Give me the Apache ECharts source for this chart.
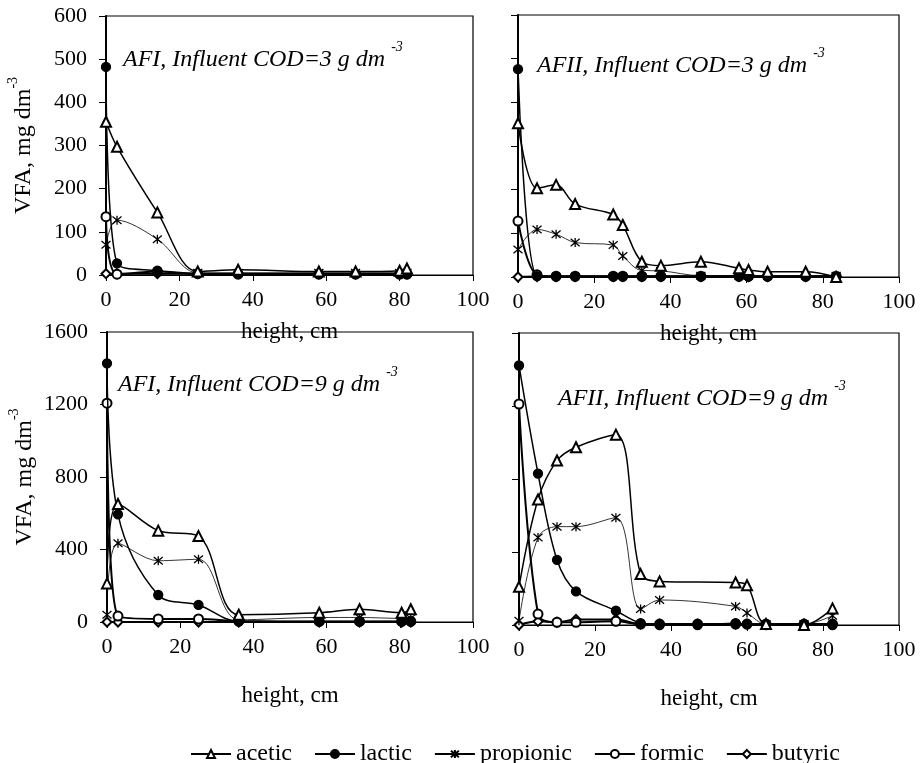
<!DOCTYPE html>
<html>
<head>
<meta charset="utf-8">
<script src="https://cdn.jsdelivr.net/npm/echarts@6/dist/echarts.min.js"></script>
<style>
html,body{margin:0;padding:0;background:#fff;}
#chart{width:923px;height:763px;}
</style>
</head>
<body>
<div id="chart"></div>
<script>
// ---------- DATA ----------
const seriesNames = ['acetic', 'lactic', 'propionic', 'formic', 'butyric'];
const xTicks = [0, 20, 40, 60, 80, 100];

// Panel 1: AFI, COD = 3 g dm-3
const h1 = [0, 3, 14, 25, 36, 58, 68, 80, 82];
const acetic1 = [355, 297, 145, 8, 12, 8, 8, 10, 15];
const lactic1 = [482, 27, 10, 3, 3, 2, 2, 2, 2];
const propionic1 = [70, 127, 83, 5, 5, 5, 5, 5, 5];
const formic1 = [135, 2, 8, 3, 2, 2, 2, 2, 2];
const butyric1 = [3, 3, 3, 3, 3, 3, 3, 3, 3];

// Panel 2: AFII, COD = 3 g dm-3
const h2 = [0, 5, 10, 15, 25, 27.5, 32.5, 37.5, 48, 58, 60.5, 65.5, 75.5, 83.5];
const acetic2 = [352, 203, 211, 167, 143, 119, 35, 26, 35, 20, 16, 12, 12, 0];
const lactic2 = [476, 2, 1, 1, 1, 1, 1, 1, 1, 1, 1, 1, 1, 1];
const propionic2 = [63, 109, 98, 79, 73, 48, 15, 14, 3, 3, 3, 3, 3, 3];
const formic2 = [128, 5, 2, 2, 2, 2, 2, 2, 2, 2, 2, 2, 2, 2];
const butyric2 = [0, 1, 1, 1, 1, 1, 1, 1, 1, 1, 1, 1, 1, 1];

// Panel 3: AFI, COD = 9 g dm-3
const h3 = [0, 3, 14, 25, 36, 58, 69, 80.5, 83];
const acetic3 = [213, 651, 504, 474, 40, 51, 70, 51, 70];
const lactic3 = [1427, 594, 149, 94, 3, 3, 3, 3, 3];
const propionic3 = [40, 434, 338, 346, 12, 25, 25, 20, 20];
const formic3 = [1207, 33, 17, 17, 5, 3, 3, 3, 3];
const butyric3 = [0, 0, 0, 0, 0, 0, 0, 0, 0];

// Panel 4: AFII, COD = 9 g dm-3
const h4 = [0, 5, 10, 15, 25.5, 32, 37, 47, 57, 60, 65, 75, 82.5];
const acetic4 = [209, 688, 901, 974, 1043, 279, 239, null, 233, 218, 5, 0, 91];
const lactic4 = [1422, 830, 357, 184, 78, 10, 0, 0, 10, 5, 0, 0, 0];
const propionic4 = [23, 479, 539, 539, 588, 87, 137, null, 102, 66, 5, 5, 51];
const formic4 = [1211, 60, 15, 15, 20, 5, 5, 5, 5, 5, 5, 5, 5];
const butyric4 = [0, 20, 15, 30, 30, 5, 5, 5, 5, 5, 5, 5, 5];

const panelTitles = ['AFI, Influent COD=3 g dm', 'AFII, Influent COD=3 g dm', 'AFI, Influent COD=9 g dm', 'AFII, Influent COD=9 g dm'];
const yMax = [600, 600, 1600, 1600];
const yStep = [100, 100, 400, 400];

// ---------- STYLE ----------
const FONT = 'Liberation Serif';
const grids = [
  {left: 106, top: 16, width: 367, height: 259},
  {left: 518, top: 15, width: 381, height: 262},
  {left: 107, top: 332, width: 366, height: 290},
  {left: 519, top: 333, width: 380, height: 292}
];
const titlePos = [[123, 56], [537, 62], [118, 381], [558, 395]];
const asterisk = 'path://M0,0L10,10M10,0L0,10M5,-1L5,11';
const seriesStyle = {
  acetic:    {symbol: 'emptyTriangle', size: 10, lw: 1.5},
  lactic:    {symbol: 'circle', size: 9, lw: 1.5},
  propionic: {symbol: asterisk, size: 9, lw: 0.8},
  formic:    {symbol: 'emptyCircle', size: 9, lw: 2},
  butyric:   {symbol: 'emptyDiamond', size: 9, lw: 2}
};

const panels = [
  [h1, [acetic1, lactic1, propionic1, formic1, butyric1]],
  [h2, [acetic2, lactic2, propionic2, formic2, butyric2]],
  [h3, [acetic3, lactic3, propionic3, formic3, butyric3]],
  [h4, [acetic4, lactic4, propionic4, formic4, butyric4]]
];

const xAxes = [], yAxes = [], series = [], graphics = [];
panels.forEach(function (p, i) {
  const left = (i % 2 === 0);
  xAxes.push({
    type: 'value', gridIndex: i, min: 0, max: 100, interval: 20,
    name: 'height, cm', nameLocation: 'middle', nameGap: i < 2 ? 45 : 62,
    nameTextStyle: {fontFamily: FONT, fontSize: 23, color: '#000'},
    axisLine: {lineStyle: {color: '#000', width: 1}},
    axisTick: {show: true, length: 6, lineStyle: {color: '#000'}},
    axisLabel: {fontFamily: FONT, fontSize: 22, color: '#000', margin: 14},
    splitLine: {show: false}
  });
  yAxes.push({
    type: 'value', gridIndex: i, min: 0, max: yMax[i], interval: yStep[i],
    name: left ? '{a|VFA, mg dm}{b|-3}' : '',
    nameLocation: 'middle', nameRotate: 90, nameGap: 70,
    nameTextStyle: {
      color: '#000',
      rich: {
        a: {fontFamily: FONT, fontSize: 24, color: '#000', lineHeight: 30, verticalAlign: 'bottom'},
        b: {fontFamily: FONT, fontSize: 14, color: '#000', lineHeight: 30, verticalAlign: 'top'}
      }
    },
    axisLine: {show: true, lineStyle: {color: '#000', width: 2}},
    axisTick: {show: true, length: 7, lineStyle: {color: '#000'}},
    axisLabel: {show: left, fontFamily: FONT, fontSize: 22, color: '#000', margin: 19,
      formatter: function (v) { return String(v); }},
    splitLine: {show: false}
  });
  p[1].forEach(function (vals, k) {
    const nm = seriesNames[k];
    const st = seriesStyle[nm];
    series.push({
      name: nm, type: 'line', xAxisIndex: i, yAxisIndex: i,
      data: p[0].map(function (h, j) { return [h, vals[j]]; }).filter(function (d) { return d[1] !== null; }),
      smooth: 0.35,
      symbol: st.symbol, symbolSize: st.size, showSymbol: true,
      lineStyle: {color: '#000', width: st.lw},
      itemStyle: {color: '#000', borderColor: '#000', borderWidth: 1.3},
      emphasis: {disabled: true},
      z: 5 - k
    });
  });
  graphics.push({
    type: 'text', x: titlePos[i][0], y: titlePos[i][1],
    style: {
      text: '{t|' + panelTitles[i] + ' }{s|-3}',
      verticalAlign: 'middle',
      rich: {
        t: {fontFamily: FONT, fontStyle: 'italic', fontSize: 24, fill: '#000', lineHeight: 32, verticalAlign: 'bottom'},
        s: {fontFamily: FONT, fontStyle: 'italic', fontSize: 14, fill: '#000', lineHeight: 32, verticalAlign: 'top'}
      }
    }
  });
});

const chart = echarts.init(document.getElementById('chart'), null, {renderer: 'canvas'});
chart.setOption({
  animation: false,
  backgroundColor: '#fff',
  grid: grids.map(function (g) { return Object.assign({show: true, borderColor: '#000', borderWidth: 1.2, backgroundColor: 'transparent'}, g); }),
  xAxis: xAxes,
  yAxis: yAxes,
  series: series,
  legend: {
    data: seriesNames, left: 185, top: 737, itemWidth: 40, itemHeight: 10, itemGap: 22,
    textStyle: {fontFamily: FONT, fontSize: 24, color: '#000'},
    selectedMode: false
  },
  graphic: graphics
});
</script>
</body>
</html>
